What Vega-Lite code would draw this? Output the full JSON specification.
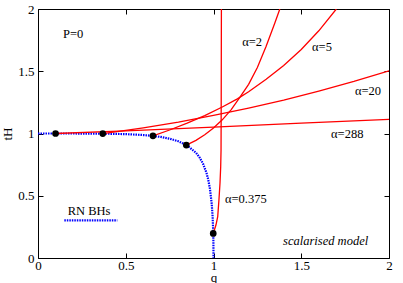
{
  "$schema": "https://vega.github.io/schema/vega-lite/v6.json",
  "width": 351,
  "height": 249,
  "autosize": {"type": "none"},
  "padding": {"left": 38, "top": 9, "right": 14, "bottom": 25},
  "background": "white",
  "config": {
    "view": {"stroke": "black", "strokeWidth": 1},
    "font": "Liberation Serif",
    "axis": {
      "grid": false,
      "domain": false,
      "tickColor": "black",
      "tickSize": -5,
      "tickWidth": 1,
      "labelFont": "Liberation Serif",
      "labelFontSize": 13,
      "labelColor": "black",
      "labelPadding": 9,
      "labelFlush": false,
      "labelOverlap": false,
      "labelBound": false,
      "titleFont": "Liberation Serif",
      "titleFontSize": 13,
      "titleFontWeight": "normal",
      "titleColor": "black"
    }
  },
  "datasets": {
    "rn": [
      {"q": 0, "t": 1},
      {"q": 0.1, "t": 0.99999},
      {"q": 0.2, "t": 0.9999},
      {"q": 0.3, "t": 0.9994},
      {"q": 0.4, "t": 0.9981},
      {"q": 0.5, "t": 0.9948},
      {"q": 0.6, "t": 0.9877},
      {"q": 0.65, "t": 0.9814},
      {"q": 0.7, "t": 0.9722},
      {"q": 0.75, "t": 0.9585},
      {"q": 0.8, "t": 0.9375},
      {"q": 0.85, "t": 0.9039},
      {"q": 0.9, "t": 0.8457},
      {"q": 0.92, "t": 0.8092},
      {"q": 0.94, "t": 0.7587},
      {"q": 0.96, "t": 0.6836},
      {"q": 0.97, "t": 0.6293},
      {"q": 0.98, "t": 0.5537},
      {"q": 0.99, "t": 0.4334},
      {"q": 0.995, "t": 0.3302},
      {"q": 0.998, "t": 0.2237},
      {"q": 0.999, "t": 0.1638},
      {"q": 0.9995, "t": 0.1189},
      {"q": 1.0, "t": 0}
    ],
    "branches": [
      {"s": "a288", "q": 0.1, "t": 1.0},
      {"s": "a288", "q": 0.5, "t": 1.0215},
      {"s": "a288", "q": 1.0, "t": 1.052},
      {"s": "a288", "q": 1.5, "t": 1.083},
      {"s": "a288", "q": 2.0, "t": 1.114},
      {"s": "a20", "q": 0.369, "t": 0.9995},
      {"s": "a20", "q": 0.6, "t": 1.046},
      {"s": "a20", "q": 0.8, "t": 1.092},
      {"s": "a20", "q": 1.0, "t": 1.145},
      {"s": "a20", "q": 1.2, "t": 1.204},
      {"s": "a20", "q": 1.4, "t": 1.269},
      {"s": "a20", "q": 1.6, "t": 1.341},
      {"s": "a20", "q": 1.8, "t": 1.419},
      {"s": "a20", "q": 2.0, "t": 1.504},
      {"s": "a5", "q": 0.655, "t": 0.981},
      {"s": "a5", "q": 0.75, "t": 1.028},
      {"s": "a5", "q": 0.85, "t": 1.083},
      {"s": "a5", "q": 0.95, "t": 1.143},
      {"s": "a5", "q": 1.05, "t": 1.213},
      {"s": "a5", "q": 1.136, "t": 1.278},
      {"s": "a5", "q": 1.2, "t": 1.335},
      {"s": "a5", "q": 1.3, "t": 1.435},
      {"s": "a5", "q": 1.4, "t": 1.547},
      {"s": "a5", "q": 1.5, "t": 1.675},
      {"s": "a5", "q": 1.6, "t": 1.825},
      {"s": "a5", "q": 1.7, "t": 2.0},
      {"s": "a2", "q": 0.845, "t": 0.907},
      {"s": "a2", "q": 0.9, "t": 0.945},
      {"s": "a2", "q": 0.95, "t": 0.99},
      {"s": "a2", "q": 1.0, "t": 1.045},
      {"s": "a2", "q": 1.05, "t": 1.11},
      {"s": "a2", "q": 1.1, "t": 1.19},
      {"s": "a2", "q": 1.15, "t": 1.29},
      {"s": "a2", "q": 1.2, "t": 1.395},
      {"s": "a2", "q": 1.25, "t": 1.53},
      {"s": "a2", "q": 1.3, "t": 1.7},
      {"s": "a2", "q": 1.35, "t": 1.89},
      {"s": "a2", "q": 1.378, "t": 2.0},
      {"s": "a0375", "q": 0.9985, "t": 0.197},
      {"s": "a0375", "q": 1.014, "t": 0.265},
      {"s": "a0375", "q": 1.024, "t": 0.333},
      {"s": "a0375", "q": 1.031, "t": 0.466},
      {"s": "a0375", "q": 1.037, "t": 0.6},
      {"s": "a0375", "q": 1.041, "t": 0.733},
      {"s": "a0375", "q": 1.043, "t": 0.867},
      {"s": "a0375", "q": 1.044, "t": 1.3},
      {"s": "a0375", "q": 1.045, "t": 2.0}
    ],
    "dots": [
      {"q": 0.1, "t": 0.99999},
      {"q": 0.369, "t": 0.9995},
      {"q": 0.655, "t": 0.981},
      {"q": 0.845, "t": 0.907},
      {"q": 0.9985, "t": 0.197}
    ],
    "labels": [
      {"label": "P=0", "q": 0.2, "t": 1.8},
      {"label": "α=2", "q": 1.22, "t": 1.731},
      {"label": "α=5", "q": 1.618, "t": 1.691},
      {"label": "α=20", "q": 1.88, "t": 1.345},
      {"label": "α=288", "q": 1.762, "t": 0.998},
      {"label": "α=0.375", "q": 1.184, "t": 0.472},
      {"label": "RN BHs", "q": 0.291, "t": 0.375}
    ],
    "italic": [
      {"label": "scalarised model", "q": 1.639, "t": 0.138}
    ],
    "key": [
      {"q": 0.15, "q2": 0.452, "t": 0.303}
    ]
  },
  "resolve": {"axis": {"x": "independent", "y": "independent"}},
  "layer": [
    {
      "layer": [
        {
          "data": {"name": "rn"},
          "mark": {"type": "line", "color": "#0000ff", "strokeWidth": 2.2, "strokeDash": [1.5, 1], "clip": true},
          "encoding": {
            "x": {"field": "q", "type": "quantitative", "scale": {"domain": [0, 2], "nice": false}, "axis": {"values": [0, 0.5, 1, 1.5, 2], "format": "~g", "title": "q", "labelPadding": 6, "titlePadding": -1}},
            "y": {"field": "t", "type": "quantitative", "scale": {"domain": [0, 2], "nice": false}, "axis": {"values": [0, 0.5, 1, 1.5, 2], "format": "~g", "title": "tH", "titlePadding": 3}}
          }
        },
        {
          "data": {"name": "branches"},
          "mark": {"type": "line", "color": "#ff0000", "strokeWidth": 1.3, "clip": true},
          "encoding": {
            "x": {"field": "q", "type": "quantitative"},
            "y": {"field": "t", "type": "quantitative"},
            "detail": {"field": "s"}
          }
        },
        {
          "data": {"name": "key"},
          "mark": {"type": "rule", "color": "#0000ff", "strokeWidth": 2.2, "strokeDash": [1.5, 1]},
          "encoding": {
            "x": {"field": "q", "type": "quantitative"},
            "x2": {"field": "q2"},
            "y": {"field": "t", "type": "quantitative"}
          }
        },
        {
          "data": {"name": "dots"},
          "mark": {"type": "point", "filled": true, "color": "black", "opacity": 1, "size": 45},
          "encoding": {
            "x": {"field": "q", "type": "quantitative"},
            "y": {"field": "t", "type": "quantitative"}
          }
        },
        {
          "data": {"name": "labels"},
          "mark": {"type": "text", "font": "Liberation Serif", "fontSize": 12.5, "color": "black", "align": "center", "baseline": "middle"},
          "encoding": {
            "x": {"field": "q", "type": "quantitative"},
            "y": {"field": "t", "type": "quantitative"},
            "text": {"field": "label"}
          }
        },
        {
          "data": {"name": "italic"},
          "mark": {"type": "text", "font": "Liberation Serif", "fontStyle": "italic", "fontSize": 12.5, "color": "black", "align": "center", "baseline": "middle"},
          "encoding": {
            "x": {"field": "q", "type": "quantitative"},
            "y": {"field": "t", "type": "quantitative"},
            "text": {"field": "label"}
          }
        }
      ]
    },
    {
      "data": {"name": "dots"},
      "mark": {"type": "point", "opacity": 0},
      "encoding": {
        "x": {"field": "q", "type": "quantitative", "axis": {"orient": "top", "values": [0, 0.5, 1, 1.5, 2], "labels": false, "title": null}},
        "y": {"field": "t", "type": "quantitative", "axis": {"orient": "right", "values": [0, 0.5, 1, 1.5, 2], "labels": false, "title": null}}
      }
    }
  ]
}
